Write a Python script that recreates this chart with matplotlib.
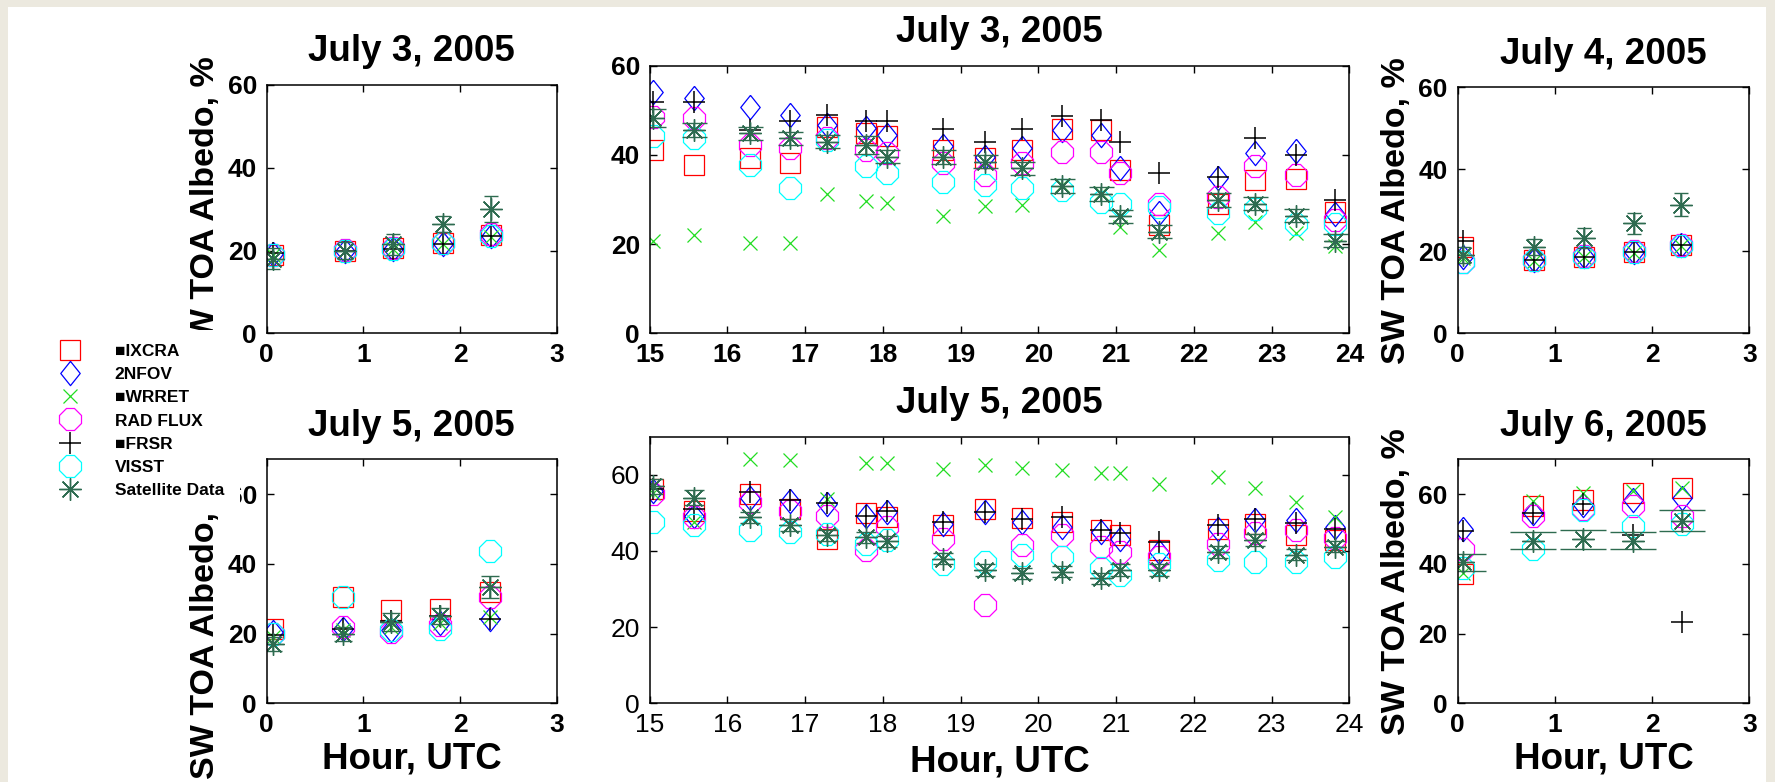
import matplotlib
matplotlib.use('Agg')
from matplotlib import pyplot as plt
from matplotlib.patches import Rectangle

# ---- data -------------------------------------------------------------
series = ['MIXCRA', '2NFOV', 'MWRRET', 'RAD FLUX', 'MFRSR', 'VISST', 'Satellite Data']
legend_labels = ['■IXCRA', '2NFOV', '■WRRET', 'RAD FLUX', '■FRSR', 'VISST', 'Satellite Data']

titles = ['July 3, 2005', 'July 3, 2005', 'July 4, 2005',
          'July 5, 2005', 'July 5, 2005', 'July 6, 2005']

hours_jul3_early = [0.07, 0.81, 1.31, 1.82, 2.32]
hours_jul4_early = [0.055, 0.79, 1.30, 1.81, 2.30]
hours_jul5_early = [0.06, 0.79, 1.29, 1.79, 2.31]
hours_jul6_early = [0.055, 0.78, 1.29, 1.80, 2.31]
hours_day = [15.05, 15.57, 16.29, 16.80, 17.28, 17.78, 18.05, 18.78, 19.31,
             19.79, 20.30, 20.81, 21.05, 21.55, 22.31, 22.79, 23.31, 23.81]

# July 3, 0-3 UTC
jul3a = {
    'MIXCRA':   [19.0, 20.0, 20.5, 21.8, 23.8],
    '2NFOV':    [19.2, 20.0, 20.4, 21.6, 23.5],
    'MWRRET':   [18.8, 19.8, 20.3, 21.5, 23.3],
    'RAD FLUX': [19.0, 20.1, 20.5, 21.8, 24.0],
    'MFRSR':    [19.3, 20.0, 20.4, 21.6, 23.5],
    'VISST':    [19.0, 19.9, 20.4, 21.7, 23.6],
    'Satellite Data': [18.0, 20.0, 21.5, 26.4, 30.0],
}
jul3a_sat_err = [2.5, 2.0, 2.5, 2.0, 3.2]

# July 3, 15-24 UTC
jul3b = {
    'MIXCRA':   [41.1, 37.7, 39.2, 38.1, 46.3, 44.8, 44.2, 41.1, 39.2, 41.1, 45.7, 45.6, 36.6, 24.3, 29.1, 34.3, 34.7, 27.2],
    '2NFOV':    [54.2, 52.7, 50.7, 49.0, 46.7, 46.0, 44.5, 41.9, 39.6, 41.5, 45.6, 44.5, 37.0, 26.9, 34.8, 40.4, 40.8, 26.8],
    'MWRRET':   [20.8, 22.0, 20.2, 20.3, 31.2, 29.7, 29.3, 26.2, 28.5, 28.8, 33.3, 31.4, 23.9, 18.7, 22.6, 24.9, 22.6, 19.6],
    'RAD FLUX': [48.6, 48.2, 42.2, 41.5, 43.7, 41.1, 40.5, 38.1, 35.5, 38.1, 40.7, 40.7, 35.9, 29.1, 30.6, 37.4, 35.5, 25.3],
    'MFRSR':    [51.8, 51.9, 45.5, 47.5, 49.0, 47.5, 47.5, 45.7, 43.0, 45.7, 48.7, 47.8, 43.0, 35.9, 35.0, 43.8, 40.0, 29.8],
    'VISST':    [44.2, 43.7, 37.7, 32.5, 43.3, 37.4, 36.0, 34.0, 33.3, 32.5, 32.1, 29.5, 29.1, 28.4, 26.9, 27.9, 24.5, 24.5],
    'Satellite Data': [48.2, 45.6, 44.8, 43.7, 43.0, 42.2, 39.6, 39.5, 38.5, 37.0, 33.0, 31.2, 26.2, 22.8, 29.9, 29.1, 26.4, 20.8],
}
jul3b_sat_err = [2.0, 1.5, 1.5, 1.5, 1.5, 2.0, 1.5, 1.5, 1.5, 1.5, 1.5, 1.5, 1.5, 1.5, 1.5, 1.5, 1.5, 1.5]

# July 4, 0-3 UTC
jul4 = {
    'MIXCRA':   [21.0, 17.9, 18.7, 19.9, 21.6],
    '2NFOV':    [18.7, 18.0, 18.8, 19.8, 21.5],
    'MWRRET':   [18.3, 17.7, 18.5, 19.7, 21.3],
    'RAD FLUX': [17.5, 18.0, 18.8, 20.0, 21.6],
    'MFRSR':    [22.4, 17.9, 18.7, 19.9, 21.5],
    'VISST':    [17.5, 17.9, 18.7, 19.9, 21.4],
    'Satellite Data': [19.1, 21.1, 23.2, 26.8, 31.3],
}
jul4_sat_err = [2.0, 2.0, 2.4, 2.5, 2.8]

# July 5, 0-3 UTC
jul5a = {
    'MIXCRA':   [21.2, 30.5, 26.7, 27.1, 31.9],
    '2NFOV':    [20.5, 21.4, 21.0, 22.9, 24.3],
    'MWRRET':   [19.0, 21.0, 21.9, 22.9, 24.8],
    'RAD FLUX': [20.0, 21.9, 20.5, 22.4, 30.5],
    'MFRSR':    [19.7, 21.4, 23.5, 25.0, 24.3],
    'VISST':    [20.0, 30.5, 21.0, 21.4, 43.6],
    'Satellite Data': [17.1, 20.0, 23.3, 25.0, 33.3],
}
jul5a_sat_err = [2.0, 2.0, 2.5, 2.3, 3.2]

# July 5, 15-24 UTC
jul5b = {
    'MIXCRA':   [56.2, 50.5, 54.9, 51.0, 43.2, 49.9, 48.8, 46.7, 51.0, 48.6, 47.5, 45.4, 44.1, 40.2, 45.8, 47.2, 44.2, 42.9],
    '2NFOV':    [55.7, 49.2, 54.0, 53.1, 52.3, 49.1, 50.1, 47.1, 50.1, 47.5, 46.2, 44.9, 43.2, 39.7, 45.8, 48.1, 48.1, 46.3],
    'MWRRET':   [55.3, 47.5, 64.2, 63.8, 53.6, 63.1, 63.1, 61.5, 62.6, 61.8, 61.3, 60.6, 60.6, 57.5, 59.4, 56.5, 52.8, 48.9],
    'RAD FLUX': [54.9, 48.8, 52.9, 50.5, 49.2, 40.2, 46.2, 43.2, 25.9, 41.5, 44.1, 41.0, 39.7, 38.4, 41.9, 44.6, 45.5, 43.3],
    'MFRSR':    [56.2, 51.1, 55.5, 53.4, 52.7, 49.1, 50.5, 47.5, 50.1, 48.4, 48.8, 45.6, 44.8, 42.3, 46.8, 48.5, 47.4, 45.7],
    'VISST':    [47.7, 46.7, 45.6, 44.9, 44.5, 41.9, 42.8, 36.7, 37.1, 38.9, 38.4, 35.4, 33.7, 36.7, 37.6, 37.2, 37.2, 38.5],
    'Satellite Data': [57.0, 54.0, 48.8, 46.8, 44.1, 43.6, 42.5, 38.0, 35.0, 34.1, 34.6, 32.8, 35.0, 35.0, 39.7, 42.9, 39.0, 41.1],
}
jul5b_sat_err = [2.0, 2.0, 1.5, 1.5, 1.5, 1.5, 1.5, 1.5, 1.5, 1.5, 1.5, 1.5, 1.5, 1.5, 1.5, 1.5, 1.5, 1.5]

# July 6, 0-3 UTC
jul6 = {
    'MIXCRA':   [37.0, 56.5, 58.4, 60.3, 61.7],
    '2NFOV':    [49.9, 54.6, 57.0, 58.4, 58.9],
    'MWRRET':   [37.5, 58.1, 60.3, 60.8, 61.7],
    'RAD FLUX': [44.2, 53.7, 55.6, 56.5, 53.7],
    'MFRSR':    [49.4, 54.6, 57.2, 48.4, 23.3],
    'VISST':    [38.9, 44.2, 55.5, 50.8, 51.3],
    'Satellite Data': [40.4, 46.7, 47.0, 46.7, 52.4],
}
jul6_sat_err = [2.4, 2.5, 2.7, 2.4, 3.0]

panels = [
    (hours_jul3_early, jul3a, jul3a_sat_err),
    (hours_day, jul3b, jul3b_sat_err),
    (hours_jul4_early, jul4, jul4_sat_err),
    (hours_jul5_early, jul5a, jul5a_sat_err),
    (hours_day, jul5b, jul5b_sat_err),
    (hours_jul6_early, jul6, jul6_sat_err),
]

# ---- styling -----------------------------------------------------------
diamond = [(0, 1), (0.8, 0), (0, -1), (-0.8, 0), (0, 1)]
styles = {
    'MIXCRA':   dict(marker='s', color='#FF0000', ms=14.4, mew=0.9),
    '2NFOV':    dict(marker=diamond, color='#0000FF', ms=17.5, mew=0.9),
    'MWRRET':   dict(marker='x', color='#22DD22', ms=10, mew=0.9),
    'RAD FLUX': dict(marker='8', color='#FF00FF', ms=16.4, mew=0.9),
    'MFRSR':    dict(marker='+', color='#000000', ms=16, mew=1.1),
    'VISST':    dict(marker='8', color='#00FFFF', ms=16.4, mew=0.9),
    'Satellite Data': dict(marker=(8, 2, 0), color='#2E6B50', ms=16, mew=1.0),
}

W, H = 1775, 782
# axes boxes in pixels: left, top, right, bottom
boxes = [(266.7, 85, 556.7, 333.3), (649.6, 65.7, 1349.3, 333.3), (1457.5, 87.3, 1749.3, 333.3),
         (266.7, 459.3, 556.7, 703.3), (649.6, 436.7, 1349.3, 703.3), (1457.5, 459.3, 1749.3, 703.3)]
ylims = [60, 60, 60, 70, 70, 70]
capsizes = [4.7, 9, 5, 6.5, 7, 16.5]
ylabel_y = [0.5, None, 0.5, 0.32, None, 0.5]

tick_font = ['Liberation Sans Narrow', 'Liberation Sans']
text_font = ['Liberation Sans', 'DejaVu Sans']

fig = plt.figure(figsize=(W / 100, H / 100), dpi=100, facecolor='#ECE9DF')
fig.add_artist(Rectangle((8 / W, 0), (1766 - 8) / W, (H - 7) / H, transform=fig.transFigure,
                         facecolor='white', edgecolor='none', zorder=-10))

legend_handles = []
for i, ((hours, vals, sat_err), box) in enumerate(zip(panels, boxes)):
    l, t, r, b = box
    ax = fig.add_axes([l / W, 1 - b / H, (r - l) / W, (b - t) / H])
    handles = []
    for name in series:
        st = styles[name]
        if name == 'Satellite Data':
            cont = ax.errorbar(hours, vals[name], yerr=sat_err, linestyle='none',
                               marker=st['marker'], ms=st['ms'], mew=st['mew'],
                               mec=st['color'], mfc=st['color'], ecolor=st['color'],
                               elinewidth=1.1, capsize=capsizes[i], capthick=1.1)
            handles.append(cont[0])
        else:
            ln, = ax.plot(hours, vals[name], linestyle='none', marker=st['marker'],
                          ms=st['ms'], mew=st['mew'], mec=st['color'], mfc='none')
            handles.append(ln)
    if i == 0:
        legend_handles = handles

    mid = i in (1, 4)
    if mid:
        ax.set_xlim(15, 24)
        xt = list(range(15, 25))
    else:
        ax.set_xlim(0, 3)
        xt = [0, 1, 2, 3]
    ax.set_ylim(0, ylims[i])
    yt = [0, 20, 40, 60]
    weight = 'normal' if i == 4 else 'bold'
    ax.set_xticks(xt)
    ax.set_xticklabels([str(v) for v in xt], family=tick_font, fontweight=weight, fontsize=19)
    ax.set_yticks(yt)
    ax.set_yticklabels([str(v) for v in yt], family=tick_font, fontweight=weight, fontsize=19)
    ax.tick_params(direction='in', length=5, width=1, top=True, right=True, pad=7)
    for sp in ax.spines.values():
        sp.set_linewidth(1.1)

    ax.set_title(titles[i], family=text_font, fontweight='bold', fontsize=26.5, pad=17)
    if not mid:
        ax.set_ylabel('SW TOA Albedo, %', family=text_font, fontweight='bold', fontsize=24.5)
        ax.yaxis.set_label_coords(-0.157, ylabel_y[i])
    if i >= 3:
        ax.set_xlabel('Hour, UTC', family=text_font, fontweight='bold', fontsize=26.5)
        ax.xaxis.set_label_coords(0.5, -0.155)

# white block behind the legend (it hides parts of the left labels)
fig.add_artist(Rectangle((8 / W, 1 - 505 / H), (240 - 8) / W, (505 - 330) / H,
                         transform=fig.transFigure, facecolor='white', edgecolor='none', zorder=5))
leg = fig.legend(legend_handles, legend_labels, loc='upper left',
                 bbox_to_anchor=(52.6 / W, 1 - 344 / H), frameon=False,
                 prop=dict(family=text_font, weight='bold', size=12.5),
                 handlelength=2.0, handletextpad=1.58, labelspacing=0.46,
                 borderpad=0, borderaxespad=0, numpoints=1)
leg.set_zorder(6)

fig.savefig('out.png', dpi=100, facecolor=fig.get_facecolor())
